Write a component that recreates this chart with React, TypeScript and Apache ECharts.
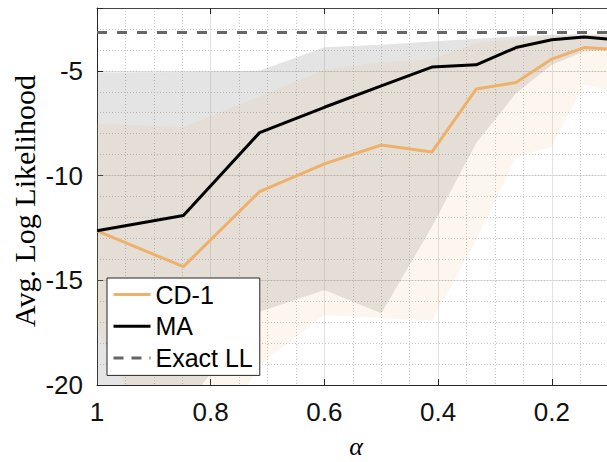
import React, { useEffect, useRef } from "react";
import * as echarts from "echarts";

// alpha values (x) of the data points
const alphas = [1, 0.848, 0.714, 0.6, 0.5, 0.411, 0.333, 0.263, 0.2, 0.143, 0.092];
// mean log likelihood
const maMean = [-12.64, -11.91, -7.95, -6.74, -5.72, -4.82, -4.71, -3.89, -3.52, -3.39, -3.51];
const cdMean = [-12.64, -14.35, -10.77, -9.44, -8.54, -8.88, -5.87, -5.56, -4.44, -3.89, -3.97];
// spread bands
const maUpper = [-5.08, -5.05, -5.0, -3.87, -3.76, -3.6, -3.47, -3.35, -3.28, -3.26, -3.26];
const maLower = [-23.0, -21.1, -16.5, -15.46, -16.57, -12.45, -8.45, -6.07, -4.71, -4.08, -4.0];
const cdUpper = [-7.53, -7.69, -6.23, -4.95, -4.6, -4.45, -3.68, -3.47, -3.35, -3.3, -3.3];
const cdLower = [-17.28, -25.7, -19.03, -16.66, -16.8, -16.95, -13.07, -9.11, -8.63, -5.67, -5.96];
// exact log likelihood
const exactLL = -3.17;
// axis ticks
const xTickLabels = [1, 0.8, 0.6, 0.4, 0.2];
const yTickLabels = [-20, -15, -10, -5];
const seriesNames = ["CD-1", "MA", "Exact LL"];

const SANS = "'Liberation Sans', Arial, Helvetica, sans-serif";
const SERIF = "'Liberation Serif', 'Times New Roman', serif";

const CD_COLOR = "#EDB169";
const MA_COLOR = "#000000";
const LL_COLOR = "#666666";
const LL_DASH = [10, 10];

const bandRenderer = (upper: number[], lower: number[], fill: string) => (_params: any, api: any) => {
  const pts: number[][] = [];
  for (let i = 0; i < alphas.length; i++) pts.push(api.coord([alphas[i], upper[i]]));
  for (let i = alphas.length - 1; i >= 0; i--) pts.push(api.coord([alphas[i], lower[i]]));
  return { type: "polygon", shape: { points: pts }, style: { fill, stroke: "none" }, silent: true };
};

export default function App() {
  const ref = useRef<HTMLDivElement>(null);
  useEffect(() => {
    if (!ref.current) return;
    const chart = echarts.init(ref.current, undefined, { renderer: "svg" });
    const axisDark = "#262626";
    const xBase = {
      type: "value",
      min: 0,
      max: 1,
      interval: 0.2,
      inverse: true,
    };
    chart.setOption({
      animation: false,
      backgroundColor: "#ffffff",
      grid: {
        left: 97,
        top: 8,
        width: 568.5,
        height: 377,
        containLabel: false,
        outerBoundsMode: "none",
      },
      xAxis: [
        {
          ...xBase,
          position: "bottom",
          axisLine: { show: true, onZero: false, lineStyle: { color: axisDark, width: 1 } },
          axisTick: { show: true, inside: true, length: 6, lineStyle: { color: axisDark, width: 1 } },
          axisLabel: {
            fontSize: 26,
            fontFamily: SANS,
            color: "#111",
            margin: 14,
            formatter: (v: number) => (xTickLabels.some((t) => Math.abs(t - v) < 1e-9) ? String(v) : ""),
          },
          splitLine: { show: true, lineStyle: { color: "#e2e2e2", width: 1 } },
          minorTick: { show: false, splitNumber: 4 },
          minorSplitLine: { show: true, lineStyle: { color: "#c4c4c4", width: 1, type: [1, 2] } },
        },
        {
          ...xBase,
          position: "top",
          axisLine: { show: true, onZero: false, lineStyle: { color: "#444", width: 1 } },
          axisTick: { show: true, inside: true, length: 6, lineStyle: { color: axisDark, width: 1 } },
          axisLabel: { show: false },
          splitLine: { show: false },
        },
      ],
      yAxis: [
        {
          type: "value",
          min: -20,
          max: -2,
          interval: 5,
          position: "left",
          axisLine: { show: true, onZero: false, lineStyle: { color: axisDark, width: 1 } },
          axisTick: { show: true, inside: true, length: 6, lineStyle: { color: axisDark, width: 1 } },
          axisLabel: {
            fontSize: 26,
            fontFamily: SANS,
            color: "#111",
            margin: 14,
            formatter: (v: number) => (yTickLabels.includes(v) ? String(v) : ""),
          },
          splitLine: { show: true, lineStyle: { color: "#e2e2e2", width: 1 } },
        },
        {
          type: "value",
          min: -20,
          max: -2,
          interval: 1,
          position: "right",
          axisLine: { show: false },
          axisTick: { show: false },
          axisLabel: { show: false },
          splitLine: { show: true, lineStyle: { color: "#c4c4c4", width: 1, type: [1, 2] } },
        },
      ],
      legend: {
        orient: "vertical",
        left: 107,
        top: 278,
        padding: [4, 7, 5, 5],
        itemWidth: 37,
        itemHeight: 14,
        itemGap: 6.7,
        backgroundColor: "#ffffff",
        borderColor: axisDark,
        borderWidth: 1,
        borderRadius: 0,
        selectedMode: false,
        itemStyle: { opacity: 0, borderWidth: 0 },
        textStyle: { fontSize: 25, fontFamily: SANS, color: "#000" },
        data: [
          { name: seriesNames[0], lineStyle: { color: CD_COLOR, width: 3, type: "solid" } },
          { name: seriesNames[1], lineStyle: { color: MA_COLOR, width: 3, type: "solid" } },
          { name: seriesNames[2], lineStyle: { color: LL_COLOR, width: 3, type: [10, 8] } },
        ],
      },
      series: [
        {
          type: "custom",
          name: "MA band",
          coordinateSystem: "cartesian2d",
          xAxisIndex: 0,
          yAxisIndex: 0,
          clip: true,
          silent: true,
          z: 1,
          data: [[alphas[0], maUpper[0]]],
          renderItem: bandRenderer(maUpper, maLower, "rgba(128,128,128,0.21)"),
        },
        {
          type: "custom",
          name: "CD-1 band",
          coordinateSystem: "cartesian2d",
          xAxisIndex: 0,
          yAxisIndex: 0,
          clip: true,
          silent: true,
          z: 1,
          data: [[alphas[0], cdUpper[0]]],
          renderItem: bandRenderer(cdUpper, cdLower, "rgba(237,177,105,0.11)"),
        },
        {
          type: "line",
          name: seriesNames[0],
          xAxisIndex: 0,
          yAxisIndex: 0,
          symbol: "none",
          clip: true,
          z: 3,
          color: CD_COLOR,
          lineStyle: { color: CD_COLOR, width: 3 },
          data: alphas.map((a, i) => [a, cdMean[i]]),
        },
        {
          type: "line",
          name: seriesNames[1],
          xAxisIndex: 0,
          yAxisIndex: 0,
          symbol: "none",
          clip: true,
          z: 4,
          color: MA_COLOR,
          lineStyle: { color: MA_COLOR, width: 3 },
          data: alphas.map((a, i) => [a, maMean[i]]),
        },
        {
          type: "line",
          name: seriesNames[2],
          xAxisIndex: 0,
          yAxisIndex: 0,
          symbol: "none",
          clip: true,
          z: 5,
          color: LL_COLOR,
          lineStyle: { color: LL_COLOR, width: 3, type: LL_DASH },
          data: [
            [1, exactLL],
            [0, exactLL],
          ],
        },
      ],
      graphic: [
        {
          type: "text",
          x: 24,
          y: 201,
          rotation: Math.PI / 2,
          style: {
            text: "Avg. Log Likelihood",
            fontFamily: SERIF,
            fontSize: 30,
            fill: "#000",
            align: "center",
            verticalAlign: "middle",
          },
        },
        {
          type: "text",
          x: 356,
          y: 446.5,
          style: {
            text: "α",
            fontFamily: SERIF,
            fontStyle: "italic",
            fontSize: 26,
            fill: "#000",
            align: "center",
            verticalAlign: "middle",
          },
        },
      ],
    });
    return () => chart.dispose();
  }, []);
  return (
    <div
      ref={ref}
      style={{ position: "fixed", left: 0, top: 0, width: 607, height: 462, background: "#fff" }}
    />
  );
}
